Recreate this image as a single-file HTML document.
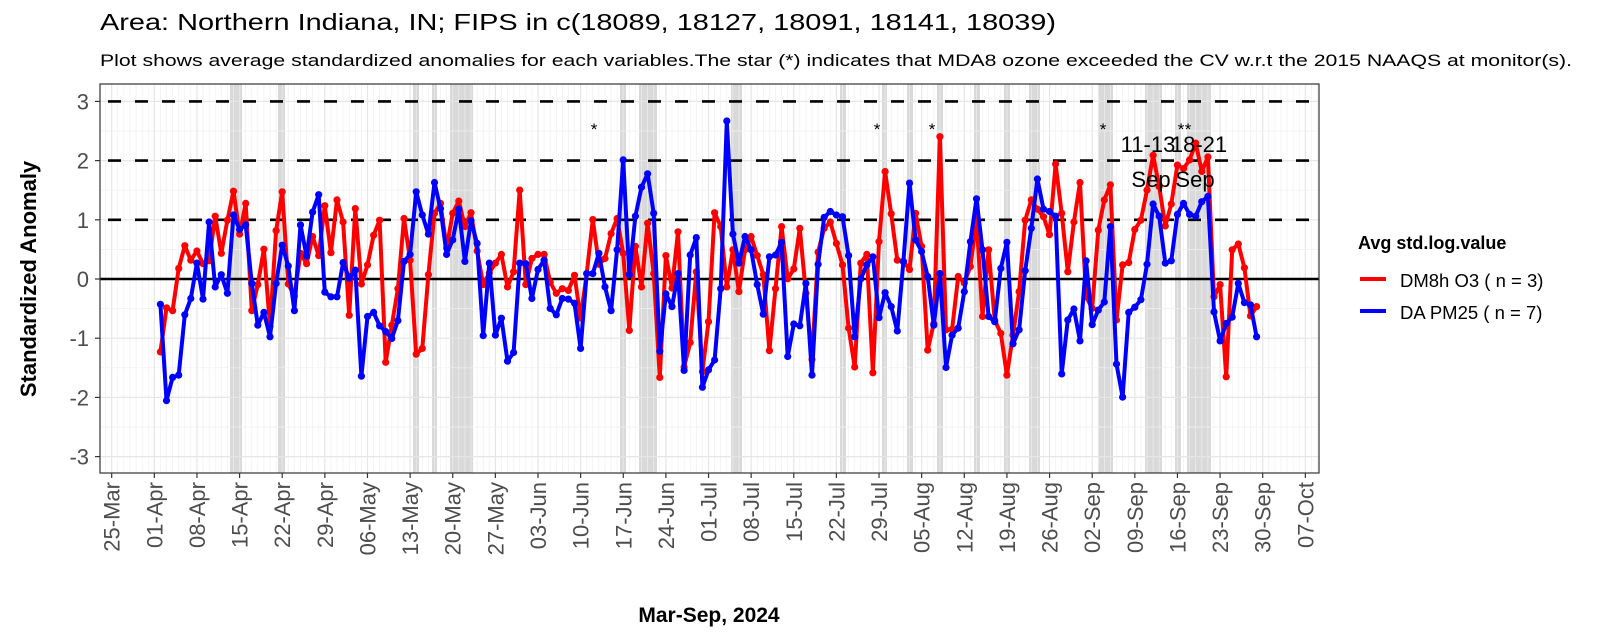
<!DOCTYPE html>
<html><head><meta charset="utf-8"><style>
html,body{margin:0;padding:0;background:#fff;}
svg{display:block;font-family:"Liberation Sans",sans-serif;}
</style></head><body>
<svg id="s" width="1600" height="640" viewBox="0 0 1600 640" xmlns="http://www.w3.org/2000/svg">
<rect width="1600" height="640" fill="#fff"/>
<text x="100" y="30" font-size="23" fill="#000" textLength="956" lengthAdjust="spacingAndGlyphs">Area: Northern Indiana, IN; FIPS in c(18089, 18127, 18091, 18141, 18039)</text>
<text x="100" y="66" font-size="16.5" fill="#000" textLength="1472" lengthAdjust="spacingAndGlyphs">Plot shows average standardized anomalies for each variables.The star (*) indicates that MDA8 ozone exceeded the CV w.r.t the 2015 NAAQS at monitor(s).</text>
<g id="bands"></g>
<g id="grid"></g>
<g id="ref"></g>
<g id="series"></g>
<g id="ann"></g>
<rect x="100" y="84" width="1219" height="389" fill="none" stroke="#333" stroke-width="1.2"/>
<g id="axes"></g>
<text transform="translate(36,279) rotate(-90)" text-anchor="middle" font-size="22" font-weight="bold" fill="#000">Standardized Anomaly</text>
<text x="709" y="622" text-anchor="middle" font-size="21" font-weight="bold" fill="#000">Mar-Sep, 2024</text>
<text x="1358" y="249" font-size="18" font-weight="bold" fill="#000">Avg std.log.value</text>
<line x1="1360" y1="279" x2="1386" y2="279" stroke="#ff0000" stroke-width="4"/>
<line x1="1360" y1="311" x2="1386" y2="311" stroke="#0000ff" stroke-width="4"/>
<text x="1400" y="287" font-size="18.5" fill="#000">DM8h O3 ( n = 3)</text>
<text x="1400" y="319" font-size="18.5" fill="#000">DA PM25 ( n = 7)</text>
</svg>
<script>
var NS="http://www.w3.org/2000/svg";
function el(p,t,a,txt){var e=document.createElementNS(NS,t);for(var k in a)e.setAttribute(k,a[k]);if(txt!==undefined)e.textContent=txt;document.getElementById(p).appendChild(e);return e;}
var L=100,R=1319,T=84,B=473;
function X(d){return 111.7+6.09*d;}
function Yv(v){return 279-59.2*v;}
var bands=[[230,242],[278,285],[413,419],[432,437],[450,473],[620,626],[639,657],[731,742],[840,846],[882,887],[907,913],[937,943],[974,980],[1004,1010],[1029,1040],[1098,1113],[1145,1162],[1175,1181],[1187,1211]];
bands.forEach(function(b){el("bands","rect",{x:b[0],y:T,width:b[1]-b[0],height:B-T,fill:"rgba(185,185,185,0.55)"});});
for(var d=-1;d<=199;d++){var x=X(d);if(x<L||x>R)continue;var maj=(d%7==0);el("grid","line",{x1:x,y1:T,x2:x,y2:B,stroke:maj?"#e6e6e6":"#efefef","stroke-width":maj?1.2:0.7});}
for(var k=-6;k<=7;k++){var y=Yv(k*0.5);if(y<T||y>B)continue;el("grid","line",{x1:L,y1:y,x2:R,y2:y,stroke:k%2==0?"#e6e6e6":"#efefef","stroke-width":k%2==0?1.2:0.7});}
[1,2,3].forEach(function(v){el("ref","line",{x1:L,y1:Yv(v),x2:R,y2:Yv(v),stroke:"#000","stroke-width":2.6,"stroke-dasharray":"13,14","stroke-dashoffset":"-8"});});
el("ref","line",{x1:L,y1:Yv(0),x2:R,y2:Yv(0),stroke:"#000","stroke-width":2.6});
var red=[-1.36,-0.6,-0.65,0.08,0.47,0.22,0.38,0.16,0.21,0.98,0.34,0.91,1.41,0.67,1.2,-0.65,-0.2,0.41,-0.92,0.73,1.4,-0.19,-0.4,0.34,0.16,0.63,0.3,1.16,0.35,
1.26,0.88,-0.73,1.11,-0.19,0.14,0.65,0.91,-1.54,-0.9,-0.27,0.94,0.22,-1.4,-1.3,-0.03,1.03,1.2,0.43,1.03,1.24,0.8,1.04,0.38,-0.2,0.0,0.17,0.32,-0.24,0.02,1.43,-0.2,
0.25,0.32,0.32,-0.16,-0.35,-0.27,-0.3,-0.04,-0.78,-0.01,0.92,0.15,0.25,0.68,0.94,0.34,-0.99,0.46,-0.24,0.86,-0.01,-1.8,0.3,-0.26,0.71,-1.62,-1.2,0.02,-1.7,-0.84,1.04,
0.8,-0.24,0.4,-0.32,0.4,0.63,0.3,-0.03,-1.34,-0.27,0.8,-0.1,0.07,0.77,-0.35,-1.49,0.36,0.77,0.88,0.51,0.14,-0.95,-1.62,0.17,0.32,-1.72,0.54,1.75,1.02,0.22,0.2,0.06,
1.03,0.46,-1.33,-0.87,2.35,-0.98,-0.97,-0.06,-0.17,0.11,0.93,-0.75,0.4,-0.81,-1.04,-1.76,-1.07,-0.32,0.91,1.26,1.1,0.97,0.66,1.88,1.03,0.02,0.88,1.56,-0.41,-0.61,0.74,
1.26,1.52,-0.81,0.14,0.18,0.75,0.91,1.43,2.03,1.49,0.81,1.19,1.86,1.8,1.95,2.24,1.75,2.0,-0.41,-0.2,-1.79,0.4,0.5,0.09,-0.74,-0.58];
var blue=[-0.54,-2.2,-1.8,-1.76,-0.72,-0.44,0.17,-0.45,0.88,-0.24,-0.03,-0.35,1.0,0.75,0.83,-0.18,-0.9,-0.68,-1.1,-0.18,0.48,0.12,-0.65,0.83,0.29,1.05,1.35,-0.33,-0.41,
-0.41,0.18,-0.09,0.05,-1.78,-0.75,-0.68,-0.91,-1.01,-1.13,-0.82,0.2,0.32,1.4,1.0,0.67,1.56,1.11,0.32,0.57,1.1,0.2,0.9,0.51,-1.08,0.17,-1.07,-0.78,-1.52,-1.37,0.17,0.16,
-0.44,0.06,0.22,-0.61,-0.72,-0.44,-0.45,-0.52,-1.3,-0.01,-0.01,0.34,-0.24,-0.65,0.4,1.95,-0.03,0.98,1.48,1.71,1.03,-1.35,-0.36,-0.58,-0.01,-1.68,0.31,0.61,-1.97,-1.67,-1.5,
-0.27,2.62,0.67,0.17,0.63,0.4,-0.2,-0.71,0.28,0.31,0.53,-1.44,-0.88,-0.91,-0.18,-1.76,0.15,0.96,1.06,1.0,0.97,0.3,-1.1,-0.1,0.14,0.28,-0.77,-0.34,-0.58,-1.0,0.2,1.55,
0.57,0.37,-0.06,-0.9,-0.01,-1.63,-1.07,-0.95,-0.32,0.54,1.28,0.4,-0.75,-0.84,0.08,0.53,-1.22,-0.98,0.04,0.77,1.62,1.1,1.06,0.98,-1.74,-0.81,-0.62,-1.17,0.21,-0.89,-0.64,
-0.5,0.8,-1.57,-2.14,-0.68,-0.59,-0.46,0.15,1.19,0.98,0.17,0.21,1.01,1.2,1.01,0.98,1.23,1.32,-0.67,-1.17,-0.87,-0.76,-0.18,-0.51,-0.55,-1.1];
function draw(arr,col){var pts=arr.map(function(v,i){return [160.4+6.09*i,273-58*v];});
el("series","polyline",{points:pts.map(function(p){return p[0].toFixed(1)+","+p[1].toFixed(1);}).join(" "),fill:"none",stroke:col,"stroke-width":4,"stroke-linejoin":"round"});
pts.forEach(function(p){el("series","circle",{cx:p[0].toFixed(1),cy:p[1].toFixed(1),r:3.6,fill:col});});}
draw(red,"#ff0000");draw(blue,"#0000ff");
[594,877,932,1103,1181,1188].forEach(function(x){el("ann","text",{x:x,y:135,"text-anchor":"middle","font-size":17,fill:"#000"},"*");});
el("ann","text",{x:1148,y:152,"text-anchor":"middle","font-size":22,fill:"#000"},"11-13");
el("ann","text",{x:1199,y:152,"text-anchor":"middle","font-size":22,fill:"#000"},"18-21");
el("ann","text",{x:1151,y:187,"text-anchor":"middle","font-size":22,fill:"#000"},"Sep");
el("ann","text",{x:1195,y:187,"text-anchor":"middle","font-size":22,fill:"#000"},"Sep");
for(var v=-3;v<=3;v++){var y=Yv(v);el("axes","line",{x1:95,y1:y,x2:L,y2:y,stroke:"#333","stroke-width":1.2});
el("axes","text",{x:89,y:y+8,"text-anchor":"end","font-size":22,fill:"#4d4d4d"},String(v));}
var mon=["Jan","Feb","Mar","Apr","May","Jun","Jul","Aug","Sep","Oct"];
var start=new Date(2024,2,25);
for(var w=0;w<=28;w++){var dt=new Date(start.getTime()+w*7*86400000);var x=X(w*7);
el("axes","line",{x1:x,y1:B,x2:x,y2:B+5,stroke:"#333","stroke-width":1.2});
var lab=("0"+dt.getDate()).slice(-2)+"-"+mon[dt.getMonth()];
el("axes","text",{transform:"translate("+(x+8)+","+(B+9)+") rotate(-90)","text-anchor":"end","font-size":22,fill:"#4d4d4d"},lab);}
</script>
</body></html>
